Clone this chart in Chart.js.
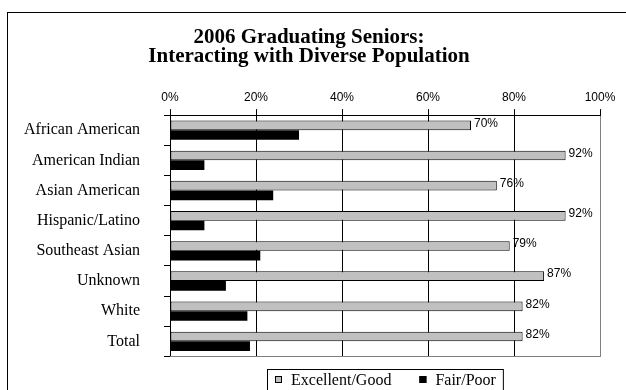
<!DOCTYPE html>
<html>
<head>
<meta charset="utf-8">
<script src="https://cdn.jsdelivr.net/npm/chart.js@4"></script>
<style>
  html, body { margin: 0; padding: 0; background: #fff; }
  #wrap { width: 626px; height: 390px; }
</style>
</head>
<body>
<div id="wrap"><canvas id="seniorsChart" width="626" height="390"></canvas></div>
<script>
// Ratings by group
const groups = ['African American', 'American Indian', 'Asian American', 'Hispanic/Latino',
                'Southeast Asian', 'Unknown', 'White', 'Total'];
const excellentGood = [70, 92, 76, 92, 79, 87, 82, 82];
const fairPoor = [30, 8, 24, 8, 21, 13, 18, 18.6];
const seriesNames = ['Excellent/Good', 'Fair/Poor'];
const titleLines = ['2006 Graduating Seniors:', 'Interacting with Diverse Population'];

const serif = '"Liberation Serif", "Times New Roman", serif';
const sans = '"Liberation Sans", Arial, sans-serif';

// Outer frame, plot bottom edge, value labels and boxed legend
const decorations = {
    id: 'decorations',
    afterDraw(chart) {
        const ctx = chart.ctx;
        const area = chart.chartArea;
        ctx.save();

        // outer frame (runs off the right and bottom edges)
        ctx.strokeStyle = '#000';
        ctx.lineWidth = 1;
        ctx.strokeRect(7.5, 12.5, 700, 500);

        // grey bottom edge of plot area
        ctx.strokeStyle = '#808080';
        ctx.beginPath();
        ctx.moveTo(area.left, Math.round(area.bottom) + 0.5);
        ctx.lineTo(area.right + 1, Math.round(area.bottom) + 0.5);
        ctx.stroke();

        // value labels on the Excellent/Good bars
        ctx.fillStyle = '#000';
        ctx.font = '12px ' + sans;
        ctx.textAlign = 'left';
        ctx.textBaseline = 'middle';
        chart.getDatasetMeta(0).data.forEach((bar, i) => {
            ctx.fillText(excellentGood[i] + '%', bar.x + 3, bar.y - 2);
        });

        // legend
        ctx.font = '16px ' + serif;
        const box = 7, gapText = 9, gapItem = 28;
        const widths = chart.data.datasets.map(ds => box + gapText + ctx.measureText(ds.label).width);
        const total = widths.reduce((a, b) => a + b, 0) + gapItem;
        let x = Math.round((area.left + area.right) / 2 - total / 2);
        const cy = 380;
        ctx.strokeStyle = '#000';
        ctx.strokeRect(x - 7.5, 369.5, total + 15, 40);
        chart.data.datasets.forEach((ds, i) => {
            ctx.fillStyle = ds.backgroundColor;
            ctx.fillRect(x, cy - 4, box, box);
            ctx.strokeStyle = '#000';
            ctx.strokeRect(x + 0.5, cy - 3.5, box - 1, box - 1);
            ctx.fillStyle = '#000';
            ctx.fillText(ds.label, x + box + gapText, cy + 1);
            x += widths[i] + gapItem;
        });
        ctx.restore();
    }
};

new Chart(document.getElementById('seniorsChart'), {
    type: 'bar',
    data: {
        labels: groups,
        datasets: [{
            label: seriesNames[0],
            data: excellentGood,
            backgroundColor: '#c0c0c0',
            borderColor: '#000',
            borderWidth: 1,
            borderSkipped: false
        }, {
            label: seriesNames[1],
            data: fairPoor,
            backgroundColor: '#000',
            borderColor: '#000',
            borderWidth: 0
        }]
    },
    options: {
        indexAxis: 'y',
        responsive: false,
        animation: false,
        devicePixelRatio: 1,
        layout: {
            padding: { left: 18, right: 26, top: 0, bottom: 31 }
        },
        datasets: {
            bar: {
                categoryPercentage: 0.64,
                barPercentage: 1
            }
        },
        scales: {
            x: {
                position: 'top',
                min: 0,
                max: 100,
                afterFit: scale => { scale.height = 38; },
                ticks: {
                    stepSize: 20,
                    padding: 4,
                    color: '#000',
                    font: { family: sans, size: 12 },
                    callback: v => v + '%'
                },
                grid: {
                    color: ctx => (ctx.tick && ctx.tick.value === 100) ? '#808080' : '#000',
                    tickColor: '#000',
                    tickLength: 6,
                    lineWidth: 1
                },
                border: { color: '#000', width: 1 }
            },
            y: {
                afterFit: scale => { scale.width = 152; },
                ticks: {
                    padding: 24,
                    color: '#000',
                    font: { family: serif, size: 16 }
                },
                grid: {
                    offset: true,
                    drawOnChartArea: false,
                    tickColor: '#000',
                    tickLength: 6
                },
                border: { color: '#000', width: 1 }
            }
        },
        plugins: {
            legend: { display: false },
            tooltip: { enabled: false },
            title: {
                display: true,
                text: titleLines,
                color: '#000',
                font: { family: serif, size: 21, weight: 'bold', lineHeight: 0.86 },
                padding: { top: 29, bottom: 12 }
            }
        }
    },
    plugins: [decorations]
});
</script>
</body>
</html>
